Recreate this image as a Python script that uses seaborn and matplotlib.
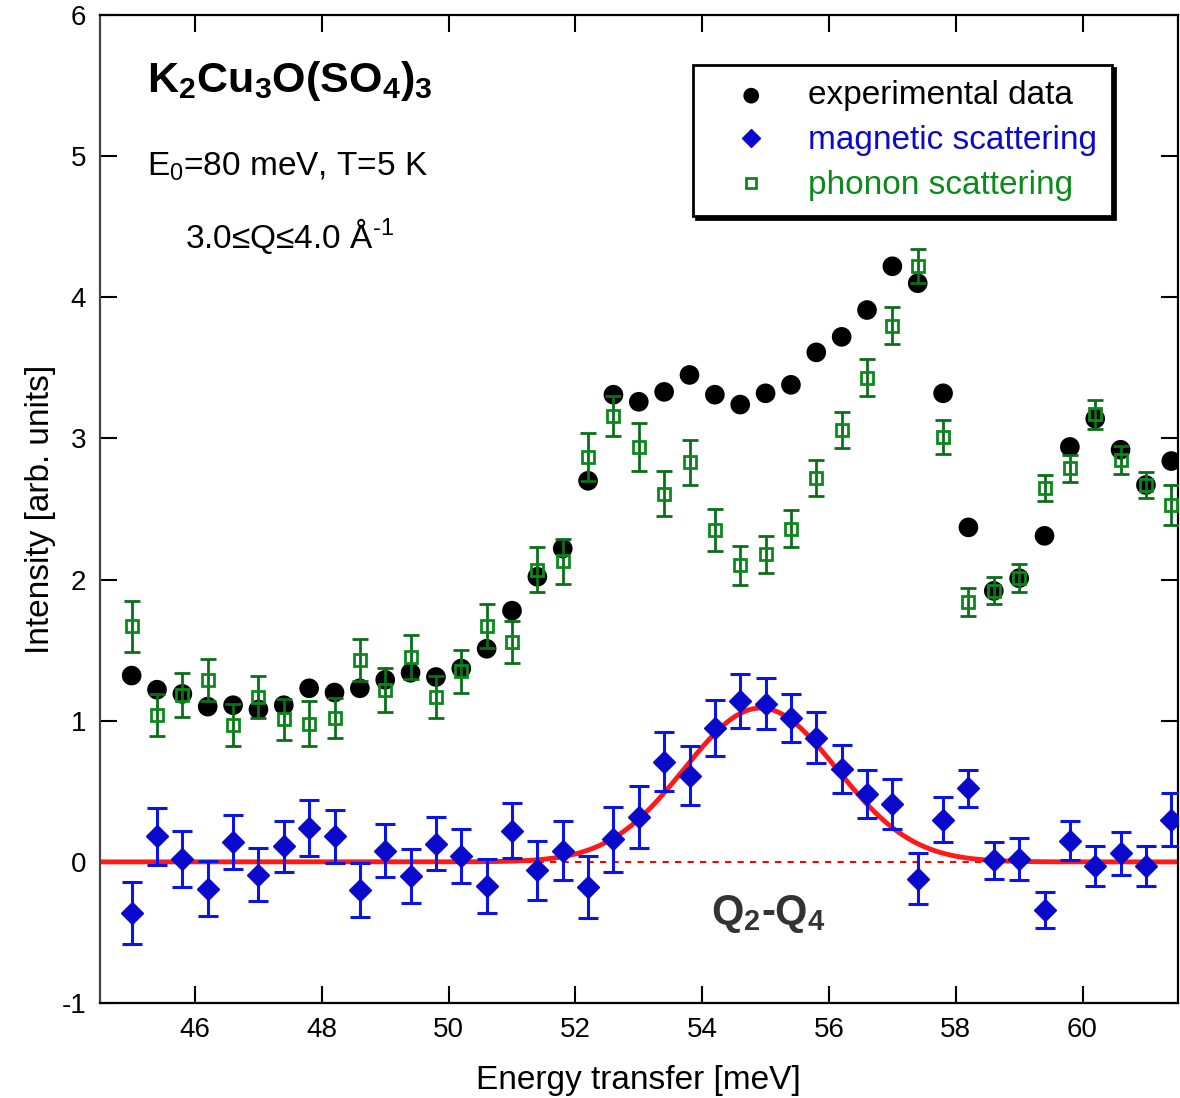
import numpy as np
import pandas as pd
import matplotlib
matplotlib.use("Agg")
import matplotlib.pyplot as plt
import seaborn as sns

energy = [45.0, 45.4, 45.8, 46.2, 46.6, 47.0, 47.4, 47.8, 48.2, 48.6, 49.0, 49.4, 49.8, 50.2,
          50.6, 51.0, 51.4, 51.8, 52.2, 52.6, 53.0, 53.4, 53.8, 54.2, 54.6, 55.0, 55.4, 55.8,
          56.2, 56.6, 57.0, 57.4, 57.8, 58.2, 58.6, 59.0, 59.4, 59.8, 60.2, 60.6, 61.0, 61.4]

experimental = [1.32, 1.22, 1.19, 1.10, 1.11, 1.08, 1.11, 1.23, 1.20, 1.23, 1.29, 1.34, 1.31, 1.37,
                1.51, 1.78, 2.02, 2.22, 2.70, 3.31, 3.26, 3.33, 3.45, 3.31, 3.24, 3.32, 3.38, 3.61,
                3.72, 3.91, 4.22, 4.10, 3.32, 2.37, 1.92, 2.01, 2.31, 2.94, 3.14, 2.92, 2.67, 2.84]

magnetic = [-0.36, 0.18, 0.02, -0.19, 0.14, -0.09, 0.11, 0.24, 0.18, -0.20, 0.08, -0.10, 0.13, 0.04,
            -0.17, 0.22, -0.06, 0.08, -0.18, 0.16, 0.32, 0.71, 0.61, 0.95, 1.14, 1.12, 1.02, 0.88,
            0.66, 0.48, 0.41, -0.12, 0.30, 0.52, 0.01, 0.02, -0.34, 0.15, -0.03, 0.06, -0.03, 0.30]
magnetic_err = [0.22, 0.20, 0.20, 0.195, 0.19, 0.19, 0.18, 0.195, 0.19, 0.19, 0.19, 0.19, 0.19, 0.19,
                0.19, 0.195, 0.21, 0.21, 0.22, 0.23, 0.22, 0.21, 0.21, 0.20, 0.19, 0.18, 0.17, 0.18,
                0.17, 0.17, 0.18, 0.18, 0.16, 0.13, 0.13, 0.15, 0.13, 0.14, 0.14, 0.15, 0.14, 0.19]

phonon = [1.67, 1.04, 1.18, 1.29, 0.97, 1.17, 1.01, 0.98, 1.02, 1.43, 1.22, 1.45, 1.17, 1.35,
          1.67, 1.56, 2.07, 2.13, 2.87, 3.16, 2.94, 2.61, 2.83, 2.35, 2.10, 2.18, 2.36, 2.72,
          3.06, 3.43, 3.80, 4.22, 3.01, 1.84, 1.92, 2.01, 2.65, 2.79, 3.17, 2.85, 2.67, 2.53]
phonon_err = [0.18, 0.15, 0.155, 0.15, 0.15, 0.15, 0.145, 0.16, 0.14, 0.15, 0.155, 0.155, 0.15, 0.15,
              0.155, 0.15, 0.16, 0.16, 0.17, 0.14, 0.17, 0.16, 0.16, 0.15, 0.14, 0.13, 0.13, 0.13,
              0.13, 0.13, 0.13, 0.12, 0.12, 0.10, 0.095, 0.10, 0.09, 0.095, 0.10, 0.10, 0.095, 0.14]

# Gaussian fit of the magnetic signal
fit_amplitude = 1.09
fit_center = 54.92
fit_sigma = 1.2

x_ticks = [46, 48, 50, 52, 54, 56, 58, 60]
y_ticks = [-1, 0, 1, 2, 3, 4, 5, 6]

sns.set_style("ticks")
plt.rcParams['font.family'] = ['Liberation Sans', 'DejaVu Sans']
plt.rcParams['mathtext.fontset'] = 'custom'
plt.rcParams['mathtext.rm'] = 'Liberation Sans'
plt.rcParams['mathtext.it'] = 'Liberation Sans'
plt.rcParams['mathtext.bf'] = 'Liberation Sans:bold'
plt.rcParams['axes.unicode_minus'] = False
plt.rcParams['text.color'] = 'black'
plt.rcParams['axes.labelcolor'] = 'black'
plt.rcParams['xtick.color'] = 'black'
plt.rcParams['ytick.color'] = 'black'

fig = plt.figure(figsize=(11.8, 10.98), dpi=100)
ax = fig.add_axes([0.0847, 0.0865, 0.9133, 0.8998])

df = pd.DataFrame({"energy": energy, "experimental": experimental,
                   "magnetic": magnetic, "magnetic_err": magnetic_err,
                   "phonon": phonon, "phonon_err": phonon_err})

xfit = np.linspace(44.5, 61.5, 600)
yfit = fit_amplitude * np.exp(-(xfit - fit_center) ** 2 / (2 * fit_sigma ** 2))
fit_df = pd.DataFrame({"x": xfit, "y": yfit})

ax.axhline(0, color="red", lw=1.5, ls=(0, (3, 3)), zorder=1)
sns.lineplot(data=fit_df, x="x", y="y", color="#ff1a1a", lw=3.5, ax=ax, zorder=2)

sns.scatterplot(data=df, x="energy", y="experimental", color="black", s=200,
                edgecolor="none", ax=ax, zorder=3, label="experimental data")

ax.errorbar(df["energy"], df["phonon"], yerr=df["phonon_err"], fmt="none",
            ecolor="#0b6e1a", elinewidth=2, capsize=6, capthick=2, zorder=4)
ax.errorbar(df["energy"], df["phonon"], fmt="s", mfc="none", mec="#0a8a1a", mew=2,
            ms=9, zorder=5, label="phonon scattering", ls="none")

ax.errorbar(df["energy"], df["magnetic"], yerr=df["magnetic_err"], fmt="none",
            ecolor="#0a14e6", elinewidth=2.2, capsize=7, capthick=2.2, zorder=6)
ax.errorbar(df["energy"], df["magnetic"], fmt="D", color="#0a0acc", ms=11,
            mec="#0a0acc", zorder=7, label="magnetic scattering", ls="none")

ax.set_xlim(44.5, 61.5)
ax.set_ylim(-1, 6)
ax.set_xticks(x_ticks)
ax.set_yticks(y_ticks)
ax.tick_params(direction="in", length=12, width=1.5, labelsize=20, top=True, right=True,
               pad=10, colors="black")
for s in ax.spines.values():
    s.set_visible(True)
    s.set_linewidth(1.6)
    s.set_color("black")
ax.spines["left"].set_color("#444444")
ax.set_xlabel("Energy transfer [meV]", fontsize=24, labelpad=16)
ax.set_ylabel("Intensity [arb. units]", fontsize=24, labelpad=4)

# Legend in order
handles, labels = ax.get_legend_handles_labels()
order = ["experimental data", "magnetic scattering", "phonon scattering"]
hmap = dict(zip(labels, handles))
leg = ax.legend([hmap[o] for o in order], order, loc="upper right",
                bbox_to_anchor=(0.939, 0.949), fontsize=24, frameon=True, fancybox=False,
                shadow={"color": "black", "alpha": 1.0}, handlelength=2.6, handletextpad=0.4,
                borderpad=0.45, labelspacing=0.42, markerscale=0.8, borderaxespad=0)
leg.get_frame().set_edgecolor("black")
leg.get_frame().set_linewidth(2)
leg.get_frame().set_alpha(1)
colors = ["black", "#0a0acc", "#0a8a1a"]
for t, c in zip(leg.get_texts(), colors):
    t.set_color(c)
leg.set_zorder(10)

ax.text(0.044, 0.933, r"$\mathbf{K_2Cu_3O(SO_4)_3}$", transform=ax.transAxes,
        fontsize=31, ha="left", va="center", color="black")
ax.text(0.044, 0.846, r"E$_0$=80 meV, T=5 K", transform=ax.transAxes,
        fontsize=24, ha="left", va="center", color="black")
ax.text(0.079, 0.776, r"3.0≤Q≤4.0 Å$^{\text{-1}}$", transform=ax.transAxes,
        fontsize=24, ha="left", va="center", color="black")
ax.text(55.05, -0.37, r"$\mathbf{Q_2}$-$\mathbf{Q_4}$", fontsize=30, color="#333333",
        ha="center", va="center", fontweight="bold")

fig.savefig("out.png", dpi=100)
